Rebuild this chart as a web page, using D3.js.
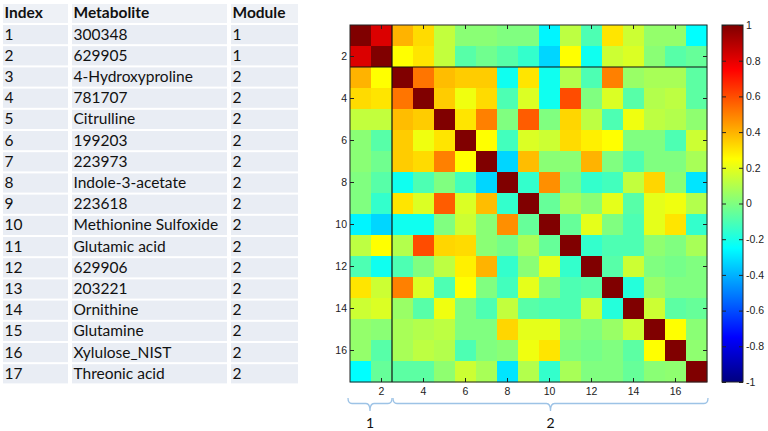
<!DOCTYPE html>
<html>
<head>
<meta charset="utf-8">
<script src="https://cdn.jsdelivr.net/npm/d3@7"></script>
<style>
  html, body { margin: 0; padding: 0; background: #fff; }
  svg { display: block; }
</style>
</head>
<body>
<svg id="chart" width="768" height="431"></svg>
<script>
// ---------- DATA ----------
const indices = [1,2,3,4,5,6,7,8,9,10,11,12,13,14,15,16,17];
const metabolites = ["300348","629905","4-Hydroxyproline","781707","Citrulline","199203","223973",
  "Indole-3-acetate","223618","Methionine Sulfoxide","Glutamic acid","629906","203221",
  "Ornithine","Glutamine","Xylulose_NIST","Threonic acid"];
const modules = [1,1,2,2,2,2,2,2,2,2,2,2,2,2,2,2,2];
const headers = ["Index","Metabolite","Module"];

const corr = [
  [1.00,0.82,0.40,0.32,0.13,0.02,0.02,0.00,0.00,-0.27,0.12,-0.10,0.30,0.15,0.04,0.04,-0.25],
  [0.82,1.00,0.25,0.30,0.13,-0.08,-0.03,-0.08,-0.15,-0.33,0.25,-0.22,0.15,0.18,0.02,-0.08,-0.05],
  [0.40,0.25,1.00,0.52,0.38,0.35,0.35,-0.22,0.30,-0.22,0.10,-0.10,0.50,0.05,0.08,0.08,-0.07],
  [0.32,0.30,0.52,1.00,0.35,0.22,0.32,-0.10,0.18,-0.22,0.60,0.00,0.18,-0.08,0.10,0.12,-0.07],
  [0.13,0.13,0.38,0.35,1.00,0.30,0.50,0.00,0.57,0.00,0.33,0.12,-0.10,0.22,0.12,0.10,0.03],
  [0.02,-0.08,0.35,0.22,0.30,1.00,0.25,-0.12,0.18,0.15,0.32,0.28,0.25,0.00,0.00,-0.10,0.15],
  [0.02,-0.03,0.35,0.32,0.50,0.25,1.00,-0.33,0.38,0.02,0.02,0.40,0.00,-0.10,0.00,0.00,0.08],
  [0.00,-0.08,-0.22,-0.10,0.00,-0.12,-0.33,1.00,-0.15,0.47,-0.02,-0.15,-0.12,0.13,0.33,0.02,-0.30],
  [0.00,-0.15,0.30,0.18,0.57,0.18,0.38,-0.15,1.00,-0.05,0.08,0.02,0.20,-0.08,0.20,0.22,0.10],
  [-0.27,-0.33,-0.22,-0.22,0.00,0.15,0.02,0.47,-0.05,1.00,-0.05,0.20,0.00,-0.10,0.20,0.30,-0.15],
  [0.12,0.25,0.10,0.60,0.33,0.32,0.02,-0.02,0.08,-0.05,1.00,-0.15,-0.10,-0.10,0.03,0.00,0.08],
  [-0.10,-0.22,-0.10,0.00,0.12,0.28,0.40,-0.15,0.02,0.20,-0.15,1.00,-0.08,0.15,0.00,-0.02,0.00],
  [0.30,0.15,0.50,0.18,-0.10,0.25,0.00,-0.12,0.20,0.00,-0.10,-0.08,1.00,-0.18,0.05,0.00,0.00],
  [0.15,0.18,0.05,-0.08,0.22,0.00,-0.10,0.13,-0.08,-0.10,-0.10,0.15,-0.18,1.00,0.15,-0.07,-0.05],
  [0.04,0.02,0.08,0.10,0.12,0.00,0.00,0.33,0.20,0.20,0.03,0.00,0.05,0.15,1.00,0.25,0.02],
  [0.04,-0.08,0.08,0.12,0.10,-0.10,0.00,0.02,0.22,0.30,0.00,-0.02,0.00,-0.07,0.25,1.00,0.03],
  [-0.25,-0.05,-0.07,-0.07,0.03,0.15,0.08,-0.30,0.10,-0.15,0.08,0.00,0.00,-0.05,0.02,0.03,1.00]
];
const axisTicks = [2,4,6,8,10,12,14,16];
const colorbarTicks = [-1,-0.8,-0.6,-0.4,-0.2,0,0.2,0.4,0.6,0.8,1];
const moduleGroups = [{label:"1", from:1, to:2}, {label:"2", from:3, to:17}];

// ---------- HELPERS ----------
function jet(t) {
  const c = v => Math.max(0, Math.min(1, v));
  const r = c(1.5 - Math.abs(4*t - 3));
  const g = c(1.5 - Math.abs(4*t - 2));
  const b = c(1.5 - Math.abs(4*t - 1));
  return d3.rgb(r*255, g*255, b*255).formatHex();
}
const color = d3.scaleSequential(jet).domain([-1, 1]);
const fmt = v => (v === 0 ? "0" : String(v)).replace("−","-");

const svg = d3.select("#chart");
svg.append("rect").attr("width",768).attr("height",431).attr("fill","#fff");

// ---------- TABLE ----------
const colX = [3, 72, 231];
const colW = [67, 157, 69];
const rowTop = 3, headerH = 21, rowH = 21.2;
const tbl = svg.append("g").attr("font-family","Lato, 'Open Sans', sans-serif").attr("font-size",15.5).attr("fill","#111");
const rows = [headers].concat(indices.map((d,i)=>[String(d), metabolites[i], String(modules[i])]));
rows.forEach((r, ri) => {
  const y0 = ri === 0 ? rowTop : rowTop + headerH + (ri-1)*rowH;
  const h = ri === 0 ? headerH : rowH;
  r.forEach((txt, ci) => {
    tbl.append("rect").attr("x", colX[ci]).attr("y", y0 + 1)
      .attr("width", colW[ci] - 2).attr("height", h - 2)
      .attr("fill", ri === 0 ? "#eef1f6" : "#e9edf4");
    tbl.append("text").attr("x", colX[ci] + 1.5).attr("y", y0 + h/2 + 1)
      .attr("dominant-baseline","middle")
      .attr("font-weight", ri === 0 ? "bold" : "normal")
      .text(txt);
  });
});

// ---------- HEATMAP ----------
const L = 350, R = 707, T = 25, B = 382;
const x = d3.scaleBand().domain(indices).range([L, R]);
const y = d3.scaleBand().domain(indices).range([T, B]);
const hm = svg.append("g");
corr.forEach((row, i) => row.forEach((v, j) => {
  hm.append("rect")
    .attr("x", x(indices[j])).attr("y", y(indices[i]))
    .attr("width", x.bandwidth() + 0.3).attr("height", y.bandwidth() + 0.3)
    .attr("fill", color(v));
}));

// module separators
const sepX = x(moduleGroups[1].from), sepY = y(moduleGroups[1].from);
hm.append("line").attr("x1", sepX).attr("x2", sepX).attr("y1", T).attr("y2", B).attr("stroke","#111").attr("stroke-width",1.2);
hm.append("line").attr("x1", L).attr("x2", R).attr("y1", sepY).attr("y2", sepY).attr("stroke","#111").attr("stroke-width",1.2);

// axes (inward ticks)
const styleAxis = g => {
  g.select(".domain").remove();
  g.selectAll(".tick line").attr("stroke","#222");
  g.selectAll(".tick text").attr("fill","#222").attr("font-family","'Liberation Sans', Arial, sans-serif").attr("font-size",10.5);
};
svg.append("g").attr("transform",`translate(0,${B})`)
  .call(d3.axisBottom(x).tickValues(axisTicks).tickSize(-4).tickPadding(6)).call(styleAxis);
svg.append("g").attr("transform",`translate(0,${T})`)
  .call(d3.axisTop(x).tickValues(axisTicks).tickSize(-4).tickFormat("")).call(styleAxis);
svg.append("g").attr("transform",`translate(${L},0)`)
  .call(d3.axisLeft(y).tickValues(axisTicks).tickSize(-4).tickPadding(3)).call(styleAxis);
svg.append("g").attr("transform",`translate(${R},0)`)
  .call(d3.axisRight(y).tickValues(axisTicks).tickSize(-4).tickFormat("")).call(styleAxis);
svg.append("rect").attr("x",L).attr("y",T).attr("width",R-L).attr("height",B-T)
  .attr("fill","none").attr("stroke","#222").attr("stroke-width",1);

// ---------- COLORBAR ----------
const cbL = 722, cbR = 743;
const cy = d3.scaleLinear().domain([-1, 1]).range([B, T]);
const defs = svg.append("defs");
const grad = defs.append("linearGradient").attr("id","jetgrad")
  .attr("x1","0").attr("y1","1").attr("x2","0").attr("y2","0");
d3.range(0, 1.0001, 1/64).forEach(t => {
  grad.append("stop").attr("offset", t).attr("stop-color", jet(t));
});
svg.append("rect").attr("x",cbL).attr("y",T).attr("width",cbR-cbL).attr("height",B-T)
  .attr("fill","url(#jetgrad)");
svg.append("g").attr("transform",`translate(${cbR},0)`)
  .call(d3.axisRight(cy).tickValues(colorbarTicks).tickSize(-4).tickPadding(3).tickFormat(fmt)).call(styleAxis);
svg.append("g").attr("transform",`translate(${cbL},0)`)
  .call(d3.axisLeft(cy).tickValues(colorbarTicks).tickSize(-4).tickFormat("")).call(styleAxis);
svg.append("rect").attr("x",cbL).attr("y",T).attr("width",cbR-cbL).attr("height",B-T)
  .attr("fill","none").attr("stroke","#222").attr("stroke-width",1);

// ---------- MODULE BRACES ----------
const braceTop = 398, braceY = 403.5, braceTip = 411;
const br = svg.append("g");
moduleGroups.forEach((m, k) => {
  const x0 = k === 0 ? L - 2 : x(m.from) + 1;
  const x1 = k === 0 ? x(m.to) + x.bandwidth() : R + 1;
  const xm = (x0 + x1) / 2;
  const r = 4;
  const p = d3.path();
  p.moveTo(x0, braceTop);
  p.quadraticCurveTo(x0, braceY, x0 + r, braceY);
  p.lineTo(xm - r, braceY);
  p.quadraticCurveTo(xm, braceY, xm, braceTip);
  p.quadraticCurveTo(xm, braceY, xm + r, braceY);
  p.lineTo(x1 - r, braceY);
  p.quadraticCurveTo(x1, braceY, x1, braceTop);
  br.append("path").attr("d", p.toString()).attr("fill","none")
    .attr("stroke","#9dc3e6").attr("stroke-width",1.3);
  br.append("text").attr("x", xm).attr("y", 424).attr("text-anchor","middle")
    .attr("dominant-baseline","middle")
    .attr("font-family","Lato, 'Open Sans', sans-serif").attr("font-size",14).attr("fill","#111")
    .text(m.label);
});
</script>
</body>
</html>
